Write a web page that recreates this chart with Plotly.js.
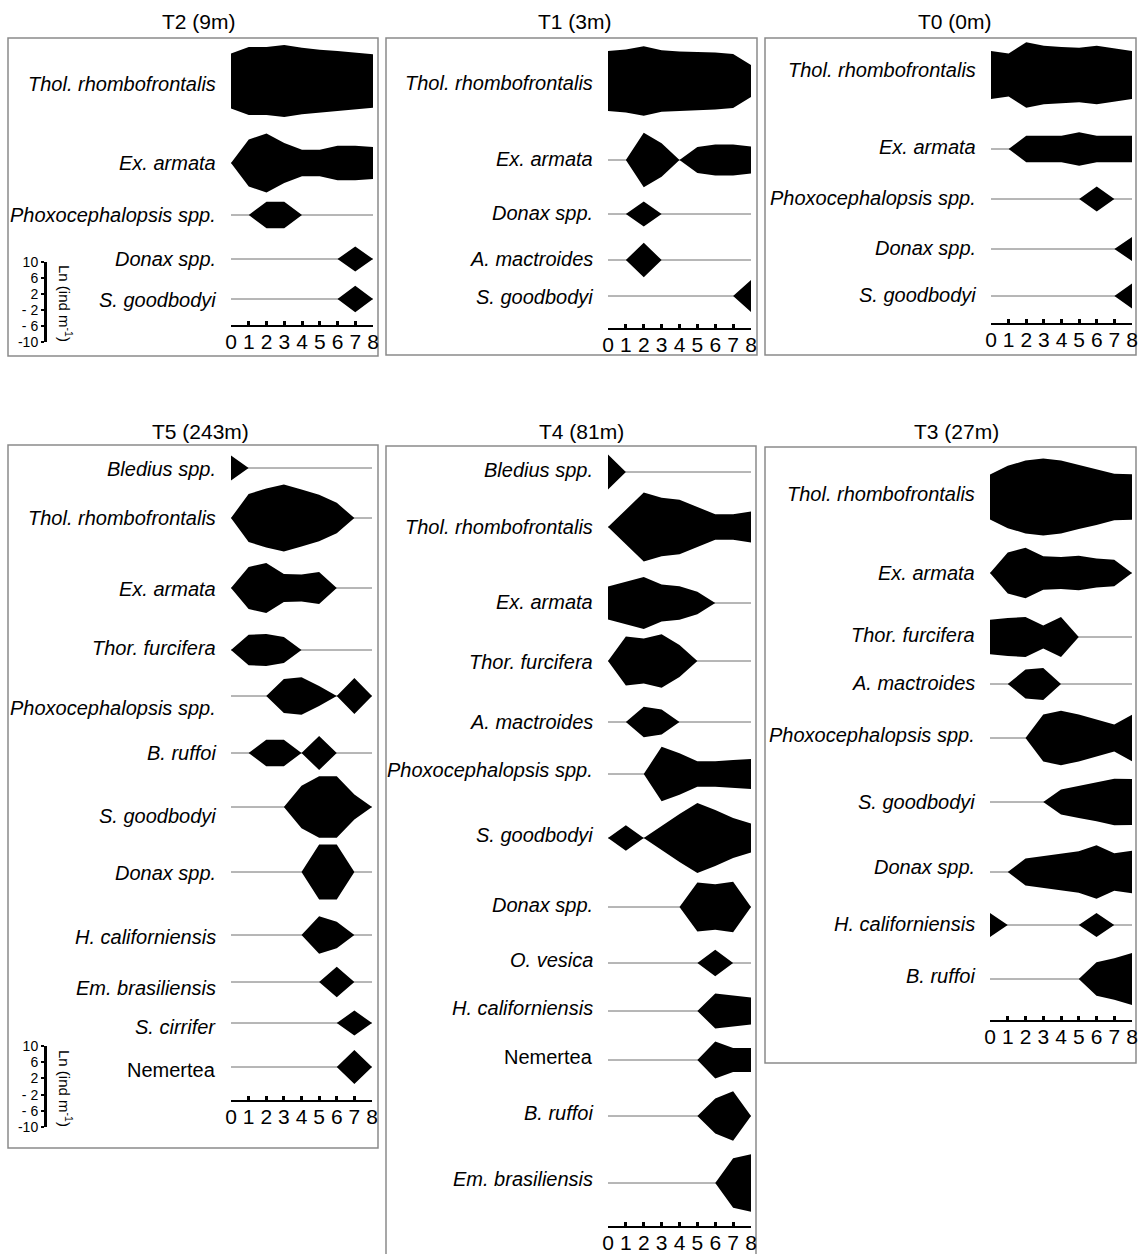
<!DOCTYPE html>
<html>
<head>
<meta charset="utf-8">
<script src="https://cdn.plot.ly/plotly-3.0.1.min.js"></script>
<style>
  html, body { margin: 0; padding: 0; background: #fff; }
  #chart { width: 1138px; height: 1254px; }
</style>
</head>
<body>
<div id="chart"></div>
<script>
// Sampling stations along each transect
const stations = [0, 1, 2, 3, 4, 5, 6, 7, 8];

// ---- T2 (9m): Ln(ind m-2) per station ----
const t2Species = ['Thol. rhombofrontalis', 'Ex. armata', 'Phoxocephalopsis spp.', 'Donax spp.', 'S. goodbodyi'];
const t2Thol  = [6.9, 8.5, 8.5, 9.0, 8.3, 7.8, 7.5, 7.1, 6.7];
const t2Exarm = [0, 5.9, 7.4, 5.0, 3.3, 3.3, 4.3, 4.3, 4.0];
const t2Phoxo = [0, 0, 3.3, 3.3, 0, 0, 0, 0, 0];
const t2Donax = [0, 0, 0, 0, 0, 0, 0, 3.1, 0];
const t2Sgood = [0, 0, 0, 0, 0, 0, 0, 3.3, 0];

// ---- T1 (3m) ----
const t1Species = ['Thol. rhombofrontalis', 'Ex. armata', 'Donax spp.', 'A. mactroides', 'S. goodbodyi'];
const t1Thol  = [7.5, 7.9, 8.7, 7.7, 7.4, 7.25, 7.1, 6.75, 4.0];
const t1Exarm = [0, 0, 6.8, 4.2, 0, 3.25, 3.9, 3.9, 3.4];
const t1Donax = [0, 0, 3.1, 0, 0, 0, 0, 0, 0];
const t1Amact = [0, 0, 4.3, 0, 0, 0, 0, 0, 0];
const t1Sgood = [0, 0, 0, 0, 0, 0, 0, 0, 4.0];

// ---- T0 (0m) ----
const t0Species = ['Thol. rhombofrontalis', 'Ex. armata', 'Phoxocephalopsis spp.', 'Donax spp.', 'S. goodbodyi'];
const t0Thol  = [6.0, 5.4, 8.2, 7.3, 7.0, 6.8, 7.3, 6.6, 6.0];
const t0Exarm = [0, 0, 3.3, 3.3, 3.3, 4.2, 3.3, 3.3, 3.3];
const t0Phoxo = [0, 0, 0, 0, 0, 0, 3.1, 0, 0];
const t0Donax = [0, 0, 0, 0, 0, 0, 0, 0, 3.0];
const t0Sgood = [0, 0, 0, 0, 0, 0, 0, 0, 3.1];

// ---- T5 (243m) ----
const t5Species = ['Bledius spp.', 'Thol. rhombofrontalis', 'Ex. armata', 'Thor. furcifera', 'Phoxocephalopsis spp.',
  'B. ruffoi', 'S. goodbodyi', 'Donax spp.', 'H. californiensis', 'Em. brasiliensis', 'S. cirrifer', 'Nemertea'];
const t5Bled  = [3.1, 0, 0, 0, 0, 0, 0, 0, 0];
const t5Thol  = [0, 6.0, 7.4, 8.4, 7.1, 5.8, 3.8, 0, 0];
const t5Exarm = [0, 5.25, 6.25, 3.5, 3.4, 4.0, 0, 0, 0];
const t5Thor  = [0, 3.8, 4.0, 3.25, 0, 0, 0, 0, 0];
const t5Phoxo = [0, 0, 0, 4.25, 4.7, 2.5, 0, 4.5, 0];
const t5Bruff = [0, 0, 3.3, 3.3, 0, 4.25, 0, 0, 0];
const t5Sgood = [0, 0, 0, 0, 5.3, 7.7, 7.7, 3.1, 0];
const t5Donax = [0, 0, 0, 0, 0, 6.9, 6.9, 0, 0];
const t5Hcal  = [0, 0, 0, 0, 0, 4.7, 3.3, 0, 0];
const t5Embr  = [0, 0, 0, 0, 0, 0, 3.8, 0, 0];
const t5Scir  = [0, 0, 0, 0, 0, 0, 0, 3.1, 0];
const t5Nem   = [0, 0, 0, 0, 0, 0, 0, 4.25, 0];

// ---- T4 (81m) ----
const t4Species = ['Bledius spp.', 'Thol. rhombofrontalis', 'Ex. armata', 'Thor. furcifera', 'A. mactroides',
  'Phoxocephalopsis spp.', 'S. goodbodyi', 'Donax spp.', 'O. vesica', 'H. californiensis', 'Nemertea',
  'B. ruffoi', 'Em. brasiliensis'];
const t4Bled  = [4.4, 0, 0, 0, 0, 0, 0, 0, 0];
const t4Thol  = [0, 4.3, 8.6, 7.3, 6.8, 5.0, 3.2, 3.2, 3.9];
const t4Exarm = [4.1, 5.3, 6.5, 4.6, 4.2, 2.8, 0, 0, 0];
const t4Thor  = [0, 6.1, 5.6, 6.7, 4.0, 0, 0, 0, 0];
const t4Amact = [0, 0, 3.8, 3.1, 0, 0, 0, 0, 0];
const t4Phoxo = [0, 0, 0, 6.8, 5.2, 3.2, 3.2, 3.5, 3.75];
const t4Sgood = [0, 3.2, 0, 3.0, 6.0, 8.75, 7.0, 5.0, 3.6];
const t4Donax = [0, 0, 0, 0, 0, 6.1, 5.7, 6.3, 0];
const t4Oves  = [0, 0, 0, 0, 0, 0, 3.3, 0, 0];
const t4Hcal  = [0, 0, 0, 0, 0, 0, 4.4, 3.9, 3.4];
const t4Nem   = [0, 0, 0, 0, 0, 0, 4.6, 3.0, 3.0];
const t4Bruff = [0, 0, 0, 0, 0, 0, 4.4, 6.2, 0];
const t4Embr  = [0, 0, 0, 0, 0, 0, 0, 6.2, 7.2];

// ---- T3 (27m) ----
const t3Species = ['Thol. rhombofrontalis', 'Ex. armata', 'Thor. furcifera', 'A. mactroides', 'Phoxocephalopsis spp.',
  'S. goodbodyi', 'Donax spp.', 'H. californiensis', 'B. ruffoi'];
const t3Thol  = [5.6, 7.8, 9.1, 9.6, 9.1, 8.0, 7.0, 5.8, 5.7];
const t3Exarm = [0, 5.1, 6.3, 4.2, 4.0, 4.3, 3.6, 3.3, 0];
const t3Thor  = [4.3, 4.75, 5.0, 2.9, 5.0, 0, 0, 0, 0];
const t3Amact = [0, 0, 3.6, 4.0, 0, 0, 0, 0, 0];
const t3Phoxo = [0, 0, 0, 5.9, 6.8, 5.85, 4.6, 3.35, 5.8];
const t3Sgood = [0, 0, 0, 0, 3.1, 4.0, 4.8, 5.8, 5.75];
const t3Donax = [0, 0, 3.4, 4.0, 4.6, 5.2, 6.7, 4.7, 5.3];
const t3Hcal  = [3.0, 0, 0, 0, 0, 0, 3.0, 0, 0];
const t3Bruff = [0, 0, 0, 0, 0, 0, 4.2, 5.2, 6.5];

// Scale-bar ticks
const scaleTicks = [10, 6, 2, -2, -6, -10];
const scaleTickText = ['10', '6', '2', '- 2', '- 6', '-10'];
const scaleTitle = 'Ln (ind m<sup>-1</sup>)';

// ---------------- layout geometry (pixels) ----------------
const W = 1138, H = 1254;
const PX_PER_UNIT = 4;   // vertical pixels per Ln unit
const FONT = 'Liberation Sans, Arial, Helvetica, sans-serif';

const panels = [
  { title: 'T2 (9m)', tx: 199, ty: 21, box: [8, 38, 378, 356], left: 231, right: 373, axisY: 325,
    species: t2Species, series: [t2Thol, t2Exarm, t2Phoxo, t2Donax, t2Sgood],
    rowY: [81, 163, 215, 259, 299], labelY: [84, 163, 215, 259, 300] },
  { title: 'T1 (3m)', tx: 575, ty: 21, box: [386, 38, 757, 355], left: 608, right: 751, axisY: 328,
    species: t1Species, series: [t1Thol, t1Exarm, t1Donax, t1Amact, t1Sgood],
    rowY: [81, 160, 214, 260, 296], labelY: [83, 159, 213, 259, 297] },
  { title: 'T0 (0m)', tx: 955, ty: 21, box: [765, 38, 1136, 355], left: 991, right: 1132, axisY: 323,
    species: t0Species, series: [t0Thol, t0Exarm, t0Phoxo, t0Donax, t0Sgood],
    rowY: [75, 149, 199, 249, 296], labelY: [70, 147, 198, 248, 295] },
  { title: 'T5 (243m)', tx: 200, ty: 431, box: [8, 445, 378, 1148], left: 231, right: 372, axisY: 1100,
    species: t5Species,
    series: [t5Bled, t5Thol, t5Exarm, t5Thor, t5Phoxo, t5Bruff, t5Sgood, t5Donax, t5Hcal, t5Embr, t5Scir, t5Nem],
    rowY: [468, 518, 588, 650, 696, 753, 807, 872, 935, 982, 1023, 1067],
    labelY: [469, 518, 589, 648, 708, 753, 816, 873, 937, 988, 1027, 1070] },
  { title: 'T4 (81m)', tx: 581, ty: 431, box: [386, 446, 756, 1300], left: 608, right: 751, axisY: 1226,
    species: t4Species,
    series: [t4Bled, t4Thol, t4Exarm, t4Thor, t4Amact, t4Phoxo, t4Sgood, t4Donax, t4Oves, t4Hcal, t4Nem, t4Bruff, t4Embr],
    rowY: [472, 527, 603, 661, 722, 774, 838, 907, 963, 1011, 1060, 1116, 1183],
    labelY: [470, 527, 602, 662, 722, 770, 835, 905, 960, 1008, 1057, 1113, 1179] },
  { title: 'T3 (27m)', tx: 956, ty: 431, box: [765, 447, 1136, 1063], left: 990, right: 1132, axisY: 1020,
    species: t3Species,
    series: [t3Thol, t3Exarm, t3Thor, t3Amact, t3Phoxo, t3Sgood, t3Donax, t3Hcal, t3Bruff],
    rowY: [497, 573, 637, 684, 738, 802, 872, 925, 979],
    labelY: [494, 573, 635, 683, 735, 802, 867, 924, 976] }
];

const scaleBars = [
  { x: 47, top: 262, bottom: 342, titleX: 66, titleY: 303 },
  { x: 47, top: 1046, bottom: 1127, titleX: 66, titleY: 1088 }
];

// ---------------- build figure ----------------
const traces = [];
const layout = {
  width: W, height: H,
  margin: { l: 0, r: 0, t: 0, b: 0 },
  paper_bgcolor: '#ffffff', plot_bgcolor: 'rgba(0,0,0,0)',
  showlegend: false,
  font: { family: FONT, color: '#000' },
  annotations: [], shapes: []
};

const px2x = p => p / W;
const px2y = p => 1 - p / H;

panels.forEach((p, i) => {
  const n = i + 1;
  const xa = n === 1 ? 'x' : 'x' + n;
  const ya = n === 1 ? 'y' : 'y' + n;
  const toUnits = py => -(py - p.box[1]) / PX_PER_UNIT;

  layout['xaxis' + (n === 1 ? '' : n)] = {
    domain: [px2x(p.left), px2x(p.right)], range: [0, 8], anchor: ya,
    showline: true, linecolor: '#000', linewidth: 2,
    ticks: 'inside', ticklen: 4, tickwidth: 3, tickcolor: '#000',
    tickvals: stations, ticktext: stations.map(String),
    ticklabelstandoff: -3,
    tickfont: { family: FONT, size: 21, color: '#000' },
    showgrid: false, zeroline: false, fixedrange: true
  };
  layout['yaxis' + (n === 1 ? '' : n)] = {
    domain: [px2y(p.axisY), px2y(p.box[1])],
    range: [toUnits(p.axisY), 0], anchor: xa,
    visible: false, showgrid: false, zeroline: false, fixedrange: true
  };

  p.species.forEach((name, k) => {
    const base = toUnits(p.rowY[k]);
    const vals = p.series[k];
    // thin baseline across the transect
    traces.push({
      type: 'scatter', mode: 'lines', xaxis: xa, yaxis: ya, hoverinfo: 'skip',
      x: stations, y: stations.map(() => base),
      line: { color: '#6e6e6e', width: 1 }
    });
    // symmetric kite
    const upper = vals.map(v => base + v);
    const lower = vals.map(v => base - v).reverse();
    traces.push({
      type: 'scatter', mode: 'lines', xaxis: xa, yaxis: ya, hoverinfo: 'skip',
      x: stations.concat(stations.slice().reverse()),
      y: upper.concat(lower),
      fill: 'toself', fillcolor: '#000', line: { color: '#000', width: 0 }
    });
    layout.annotations.push({
      xref: xa, yref: ya, x: 0, y: toUnits(p.labelY[k]),
      xanchor: 'right', yanchor: 'middle', xshift: -13, showarrow: false,
      text: name === 'Nemertea' ? name : '<i>' + name + '</i>',
      font: { family: FONT, size: 20, color: '#000' }
    });
  });

  // panel title
  layout.annotations.push({
    xref: 'paper', yref: 'paper', x: px2x(p.tx), y: px2y(p.ty),
    xanchor: 'center', yanchor: 'middle', showarrow: false,
    text: p.title, font: { family: FONT, size: 21, color: '#000' }
  });
  // panel frame
  layout.shapes.push({
    type: 'rect', xref: 'paper', yref: 'paper',
    x0: px2x(p.box[0]), x1: px2x(p.box[2]), y0: px2y(p.box[3]), y1: px2y(p.box[1]),
    line: { color: '#8a8a8a', width: 1.5 }, fillcolor: 'rgba(0,0,0,0)', layer: 'below'
  });
});

// scale bars for Ln(ind m-2)
scaleBars.forEach((s, j) => {
  const n = panels.length + 1 + j;
  layout['xaxis' + n] = {
    domain: [px2x(s.x), px2x(s.x + 2)], range: [0, 1], anchor: 'y' + n,
    visible: false, fixedrange: true
  };
  layout['yaxis' + n] = {
    domain: [px2y(s.bottom), px2y(s.top)], range: [-10, 10], anchor: 'x' + n,
    showline: true, linecolor: '#000', linewidth: 3, mirror: false,
    ticks: 'outside', ticklen: 3, tickwidth: 2, tickcolor: '#000',
    tickvals: scaleTicks, ticktext: scaleTickText,
    tickfont: { family: FONT, size: 14, color: '#000' },
    showgrid: false, zeroline: false, fixedrange: true
  };
  traces.push({
    type: 'scatter', mode: 'markers', xaxis: 'x' + n, yaxis: 'y' + n,
    x: [0], y: [0], marker: { opacity: 0 }, hoverinfo: 'skip'
  });
  layout.annotations.push({
    xref: 'paper', yref: 'paper', x: px2x(s.titleX), y: px2y(s.titleY),
    xanchor: 'center', yanchor: 'middle', showarrow: false, textangle: 90,
    text: scaleTitle, font: { family: FONT, size: 15, color: '#000' }
  });
});

Plotly.newPlot('chart', traces, layout, { staticPlot: true, displayModeBar: false });
</script>
</body>
</html>
